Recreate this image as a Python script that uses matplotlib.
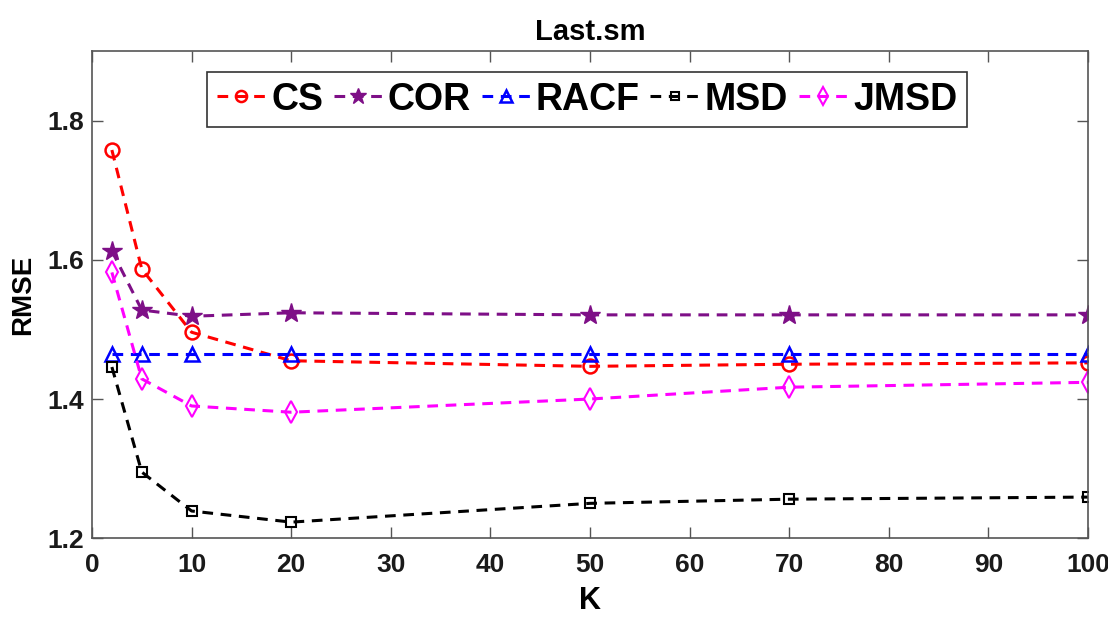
import matplotlib
matplotlib.use("Agg")
import matplotlib.pyplot as plt

plt.rcParams['font.family'] = ['Liberation Sans', 'DejaVu Sans']
plt.rcParams['font.weight'] = 'bold'

k_values = [2, 5, 10, 20, 50, 70, 100]
cs = [1.758, 1.587, 1.496, 1.455, 1.447, 1.450, 1.452]
cor = [1.613, 1.528, 1.519, 1.524, 1.521, 1.521, 1.521]
racf = [1.465, 1.465, 1.465, 1.465, 1.465, 1.465, 1.465]
msd = [1.446, 1.295, 1.239, 1.223, 1.250, 1.256, 1.259]
jmsd = [1.582, 1.429, 1.390, 1.381, 1.400, 1.417, 1.424]

series_names = ["CS", "COR", "RACF", "MSD", "JMSD"]
x_ticks = [0, 10, 20, 30, 40, 50, 60, 70, 80, 90, 100]
y_ticks = [1.2, 1.4, 1.6, 1.8]

styles = [
    dict(color="#ff0000", marker="o", ms=10, mfc="none", mew=1.8),
    dict(color="#7e0f87", marker="*", ms=15, mfc="#7e0f87", mew=1.0),
    dict(color="#0000ff", marker="^", ms=10, mfc="none", mew=1.8),
    dict(color="#000000", marker="s", ms=7, mfc="none", mew=1.5),
    dict(color="#ff00ff", marker="d", ms=11, mfc="none", mew=1.5),
]

fig = plt.figure(figsize=(11.08, 6.25), dpi=100)
ax = fig.add_axes([0.083, 0.139, 0.899, 0.779])

for name, ys, st in zip(series_names, [cs, cor, racf, msd, jmsd], styles):
    ax.plot(k_values, ys, linestyle=(0, (3.5, 2.5)), lw=2.2, label=name, **st)

ax.set_xlim(0, 100)
ax.set_ylim(1.2, 1.9)
ax.set_xticks(x_ticks)
ax.set_yticks(y_ticks)
ax.set_yticklabels(["1.2", "1.4", "1.6", "1.8"])
ax.tick_params(direction="in", length=8, width=1.0, color="#555555",
               labelsize=19, top=True, right=True)
ax.tick_params(axis="x", pad=11)
ax.tick_params(axis="y", pad=6)
for lab in ax.get_xticklabels() + ax.get_yticklabels():
    lab.set_fontweight("bold")
    lab.set_color("#1a1a1a")
for sp in ax.spines.values():
    sp.set_color("#555555")
    sp.set_linewidth(1.2)

ax.set_xlabel("K", fontsize=22, fontweight="bold", labelpad=6)
ax.set_ylabel("RMSE", fontsize=20, fontweight="bold", labelpad=8)
ax.set_title("Last.sm", fontsize=21, fontweight="bold", pad=8)

leg = ax.legend(loc="upper center", bbox_to_anchor=(0.497, 0.957), ncol=5,
                prop=dict(weight="bold", size=27),
                handlelength=1.3, handletextpad=0.15, columnspacing=0.28,
                borderpad=0.25, borderaxespad=0.0, fancybox=False,
                framealpha=1.0, edgecolor="#333333", markerscale=0.8)
leg.get_frame().set_linewidth(1.2)

fig.savefig("out.png", dpi=100)
